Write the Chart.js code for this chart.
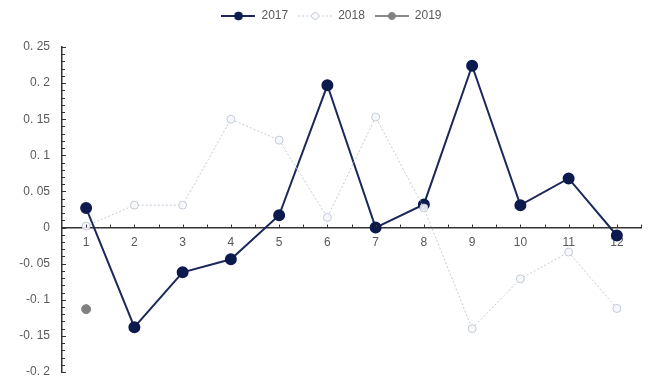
<!DOCTYPE html>
<html>
<head>
<meta charset="utf-8">
<script src="https://cdn.jsdelivr.net/npm/chart.js@4"></script>
<style>
  html, body { margin: 0; padding: 0; background: #fff; }
  #wrap { width: 648px; height: 380px; }
</style>
</head>
<body>
<div id="wrap"><canvas id="lineChart" width="648" height="380"></canvas></div>
<script>
const months = ['1', '2', '3', '4', '5', '6', '7', '8', '9', '10', '11', '12'];
const values2017 = [0.027, -0.138, -0.062, -0.044, 0.017, 0.197, 0.0, 0.032, 0.224, 0.031, 0.068, -0.011];
const values2018 = [0.002, 0.031, 0.031, 0.150, 0.121, 0.014, 0.153, 0.027, -0.140, -0.071, -0.034, -0.112];
const values2019 = [-0.113, null, null, null, null, null, null, null, null, null, null, null];
const yTicks = [-0.2, -0.15, -0.1, -0.05, 0, 0.05, 0.1, 0.15, 0.2, 0.25];

// legend swatch: short line with a marker in the middle
function legendSwatch(lineColor, dash, fill, stroke, r) {
    const c = document.createElement('canvas');
    c.width = 34;
    c.height = 12;
    const g = c.getContext('2d');
    g.strokeStyle = lineColor;
    g.lineWidth = dash ? 1 : 2;
    g.setLineDash(dash || []);
    g.beginPath();
    g.moveTo(0, 6);
    g.lineTo(34, 6);
    g.stroke();
    g.setLineDash([]);
    g.beginPath();
    g.arc(17, 6, r, 0, Math.PI * 2);
    g.fillStyle = fill;
    g.fill();
    g.lineWidth = 1;
    g.strokeStyle = stroke;
    g.stroke();
    return c;
}

const swatches = [
    legendSwatch('#1b2859', null, '#0d1a4d', '#0d1a4d', 4),
    legendSwatch('#c3cbd8', [2, 2], '#ffffff', '#c3cbd8', 3.5),
    legendSwatch('#8a8a8a', null, '#808080', '#808080', 3.5)
];

// small tick marks along both axes (majors and minors)
const axisTicks = {
    id: 'axisTicks',
    afterDatasetsDraw(chart) {
        const ctx = chart.ctx;
        const x = chart.scales.x;
        const y = chart.scales.y;
        const x0 = chart.chartArea.left;
        const y0 = y.getPixelForValue(0);
        ctx.save();
        ctx.strokeStyle = '#333';
        ctx.lineWidth = 1;
        ctx.beginPath();
        for (let v = -20; v <= 25; v++) {
            const py = Math.round(y.getPixelForValue(v / 100)) + 0.5;
            const len = (v % 5 === 0) ? 4 : 3;
            ctx.moveTo(x0, py);
            ctx.lineTo(x0 + len, py);
        }
        const step = x.getPixelForValue(1) - x.getPixelForValue(0);
        for (let i = 0; i < months.length; i++) {
            const pc = Math.round(x.getPixelForValue(i)) + 0.5;
            const pm = Math.round(x.getPixelForValue(i) + step / 2) + 0.5;
            ctx.moveTo(pc, y0);
            ctx.lineTo(pc, y0 - 3);
            ctx.moveTo(pm, y0);
            ctx.lineTo(pm, y0 - 3);
        }
        ctx.stroke();
        ctx.restore();
    }
};

// fixed legend band height, legend nudged a little to the right
const legendTweak = {
    id: 'legendTweak',
    beforeInit(chart) {
        const fit = chart.legend.fit;
        chart.legend.fit = function () {
            fit.bind(this)();
            this.height = 47;
        };
    },
    afterLayout(chart) {
        chart.legend.left += 9;
        chart.legend.right += 9;
    }
};

const ctx = document.getElementById('lineChart').getContext('2d');
const lineChart = new Chart(ctx, {
    type: 'line',
    data: {
        labels: months,
        datasets: [{
            label: '2017',
            data: values2017,
            borderColor: '#1b2859',
            borderWidth: 2,
            backgroundColor: '#0d1a4d',
            pointBackgroundColor: '#0d1a4d',
            pointBorderColor: '#0d1a4d',
            pointRadius: 5,
            order: 2
        }, {
            label: '2018',
            data: values2018,
            borderColor: '#c3cbd8',
            borderWidth: 1,
            borderDash: [2, 2],
            backgroundColor: '#ffffff',
            pointBackgroundColor: 'rgba(245,247,250,0.9)',
            pointBorderColor: '#c3cbd8',
            pointRadius: 4,
            order: 1
        }, {
            label: '2019',
            data: values2019,
            borderColor: '#8a8a8a',
            backgroundColor: '#808080',
            pointBackgroundColor: '#808080',
            pointBorderColor: '#808080',
            pointRadius: 4.5,
            order: 0
        }]
    },
    options: {
        responsive: false,
        animation: false,
        layout: {
            padding: { left: 0, right: 3, top: 0, bottom: 8 }
        },
        plugins: {
            legend: {
                position: 'top',
                labels: {
                    usePointStyle: true,
                    pointStyleWidth: 34,
                    boxHeight: 12,
                    padding: 10,
                    color: '#595959',
                    font: { family: 'Liberation Sans', size: 12 },
                    generateLabels(chart) {
                        const items = Chart.defaults.plugins.legend.labels.generateLabels(chart);
                        items.sort((a, b) => a.datasetIndex - b.datasetIndex);
                        items.forEach(it => { it.pointStyle = swatches[it.datasetIndex]; });
                        return items;
                    }
                }
            },
            tooltip: { enabled: false }
        },
        scales: {
            x: {
                position: { y: 0 },
                offset: true,
                grid: { display: false },
                border: { display: true, color: '#333', width: 1.5 },
                ticks: {
                    color: '#595959',
                    font: { family: 'Liberation Sans', size: 12 },
                    padding: 0,
                    maxRotation: 0
                }
            },
            y: {
                min: -0.2,
                max: 0.25,
                afterBuildTicks(scale) {
                    scale.ticks = yTicks.map(v => ({ value: v }));
                },
                afterFit(scale) {
                    scale.width = 62;
                    scale.paddingTop = 0;
                    scale.paddingBottom = 0;
                },
                grid: { display: false },
                border: { display: true, color: '#333', width: 1.5 },
                ticks: {
                    color: '#595959',
                    font: { family: 'Liberation Sans', size: 12 },
                    padding: 4,
                    callback(v) {
                        return String(Math.round(v * 100) / 100).replace('.', '. ');
                    }
                }
            }
        }
    },
    plugins: [axisTicks, legendTweak]
});
</script>
</body>
</html>
